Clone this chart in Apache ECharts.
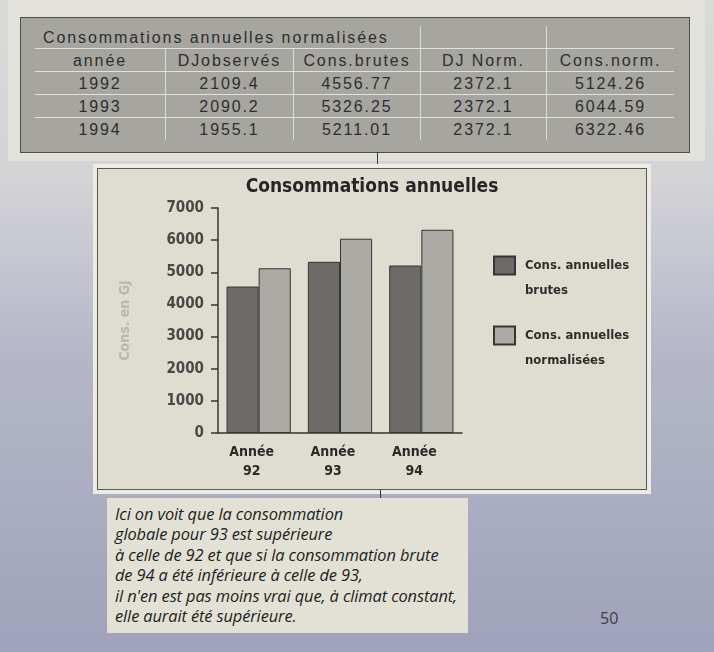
<!DOCTYPE html>
<html>
<head>
<meta charset="utf-8">
<title>Consommations annuelles</title>
<script src="https://cdn.jsdelivr.net/npm/echarts@6/dist/echarts.min.js"></script>
<style>
  html, body { margin: 0; padding: 0; }
  body {
    width: 714px; height: 652px; overflow: hidden; position: relative;
    background: linear-gradient(to bottom, #dadad7 0%, #d3d3d6 28%, #b4b6c8 55%, #a0a2bb 100%);
    font-family: "Liberation Sans", Arial, sans-serif;
  }
  .cream { position: absolute; left: 8px; top: 0; width: 697px; height: 161px; background: #e2e1db; }
  .tablePanel {
    position: absolute; left: 20px; top: 17px; width: 668px; height: 134px;
    background: #a6a5a0; border: 1px solid #4e4e4b;
  }
  table { position: absolute; left: 14px; top: 8px; border-collapse: collapse; color: #2e2e2c;
    font-size: 16px; letter-spacing: 1.9px; }
  td { height: 22px; padding: 0; text-align: center; line-height: 21px; white-space: nowrap; }
  td + td { border-left: 1px solid #dcdcd6; }
  tr + tr td { border-top: 1.5px solid #e2e2dc; }
  td.title { text-align: left; padding-left: 8px; border-left: none; }
  .connector { position: absolute; width: 1px; background: #3a3a38; }
  .chartFrame {
    position: absolute; left: 93px; top: 164px; width: 558px; height: 330px; background: #ecebe4;
  }
  .chartPanel {
    position: absolute; left: 97px; top: 168px; width: 548px; height: 320px;
    background: #dfddd2; border: 1px solid #5a5a57;
  }
  #chart { position: absolute; left: 0; top: 0; width: 548px; height: 320px; }
  .note {
    position: absolute; left: 107px; top: 498px; width: 353px; height: 129px;
    background: #e3e1d6; padding: 6px 0 0 8px;
    font-family: "Open Sans", sans-serif; font-style: italic; font-size: 16.4px;
    line-height: 20.4px; color: #1e1e1c; letter-spacing: -0.1px; white-space: nowrap;
  }
  .page { position: absolute; left: 600px; top: 607px; font-family: "Open Sans", sans-serif;
    font-size: 16px; color: #3e3e3e; }
</style>
</head>
<body>
<div class="cream"></div>
<div class="tablePanel">
  <table id="tbl"></table>
</div>
<div class="connector" style="left:377px; top:152px; height:17px;"></div>
<div class="chartFrame"></div>
<div class="chartPanel"><div id="chart"></div></div>
<div class="connector" style="left:380px; top:489px; height:9px;"></div>
<div class="note">
  Ici on voit que la consommation<br>
  globale pour 93 est supérieure<br>
  à celle de 92 et que si la consommation brute<br>
  de 94 a été inférieure à celle de 93,<br>
  il n'en est pas moins vrai que, à climat constant,<br>
  elle aurait été supérieure.
</div>
<div class="page">50</div>

<script>
// données du tableau
const tableTitle = 'Consommations annuelles normalisées'
const tableHeaders = ['année', 'DJobservés', 'Cons.brutes', 'DJ Norm.', 'Cons.norm.']
const annees = [1992, 1993, 1994]
const djObserves = [2109.4, 2090.2, 1955.1]
const consBrutes = [4556.77, 5326.25, 5211.01]
const djNorm = [2372.1, 2372.1, 2372.1]
const consNorm = [5124.26, 6044.59, 6322.46]

// graphique
const categories = ['Année\n92', 'Année\n93', 'Année\n94']
const serieNames = ['Cons. annuelles\nbrutes', 'Cons. annuelles\nnormalisées']
const yMin = 0
const yMax = 7000
const yStep = 1000

const colWidths = [130, 127, 126, 125, 127]

function buildTable() {
    const tbl = document.getElementById('tbl')
    let html = '<tr><td class="title" colspan="3">' + tableTitle + '</td><td style="width:' + colWidths[3] + 'px"></td><td style="width:' + colWidths[4] + 'px"></td></tr>'
    html += '<tr>' + tableHeaders.map((h, i) => '<td style="width:' + colWidths[i] + 'px">' + h + '</td>').join('') + '</tr>'
    annees.forEach((a, i) => {
        const row = [a, djObserves[i], consBrutes[i], djNorm[i], consNorm[i]]
        html += '<tr>' + row.map(v => '<td>' + String(v) + '</td>').join('') + '</tr>'
    })
    tbl.innerHTML = html
}

const condensed = "'Liberation Sans Narrow', 'DejaVu Sans Condensed', sans-serif"

function initChart() {
    const myChart = echarts.init(document.getElementById('chart'))
    // ligne vide en tête : la 1re ligne du texte se centre sur le carré
    const legendBase = {
        left: 395,
        padding: 0,
        itemWidth: 21,
        itemHeight: 18,
        icon: 'rect',
        formatter: name => '\n' + name,
        textStyle: {
            fontFamily: condensed,
            fontWeight: 'bold',
            fontSize: 13,
            color: '#2e2e2c',
            lineHeight: 25,
            padding: [0, 0, 0, 5]
        }
    }
    const option = {
        animation: false,
        title: {
            text: 'Consommations annuelles',
            left: 'center',
            top: 4,
            textStyle: {
                fontFamily: condensed,
                fontWeight: 'bold',
                fontSize: 19,
                color: '#262624'
            }
        },
        legend: [
            Object.assign({}, legendBase, { data: [serieNames[0]], top: 59 }),
            Object.assign({}, legendBase, { data: [serieNames[1]], top: 129 })
        ],
        grid: {
            left: 120,
            top: 39,
            width: 244,
            height: 225
        },
        xAxis: {
            type: 'category',
            data: categories,
            axisLine: { lineStyle: { color: '#333', width: 1.5 } },
            axisTick: { length: 7, lineStyle: { color: '#333', width: 1.5 } },
            axisLabel: {
                fontFamily: condensed,
                fontWeight: 'bold',
                fontSize: 14,
                lineHeight: 19,
                color: '#2a2a28',
                margin: 10,
                padding: [0, 14, 0, 0]
            }
        },
        yAxis: {
            type: 'value',
            min: yMin,
            max: yMax,
            interval: yStep,
            name: 'Cons. en GJ',
            nameLocation: 'middle',
            nameGap: 86,
            nameRotate: 90,
            nameTextStyle: {
                fontFamily: condensed,
                fontWeight: 'bold',
                fontSize: 14,
                color: '#b9b6aa'
            },
            axisLine: { show: true, lineStyle: { color: '#333', width: 1.5 } },
            axisTick: { show: true, length: 7, lineStyle: { color: '#333', width: 1.5 } },
            splitLine: { show: false },
            axisLabel: {
                fontFamily: condensed,
                fontWeight: 'bold',
                fontSize: 15,
                color: '#484846',
                margin: 14,
                formatter: value => String(value)
            }
        },
        series: [
            {
                name: serieNames[0],
                type: 'bar',
                data: consBrutes,
                barGap: 0,
                barCategoryGap: '21%',
                itemStyle: { color: '#6c6b67', borderColor: '#353533', borderWidth: 1 }
            },
            {
                name: serieNames[1],
                type: 'bar',
                data: consNorm,
                itemStyle: { color: '#abaaa4', borderColor: '#353533', borderWidth: 1 }
            }
        ]
    }
    myChart.setOption(option)
}

buildTable()
initChart()
</script>
</body>
</html>
